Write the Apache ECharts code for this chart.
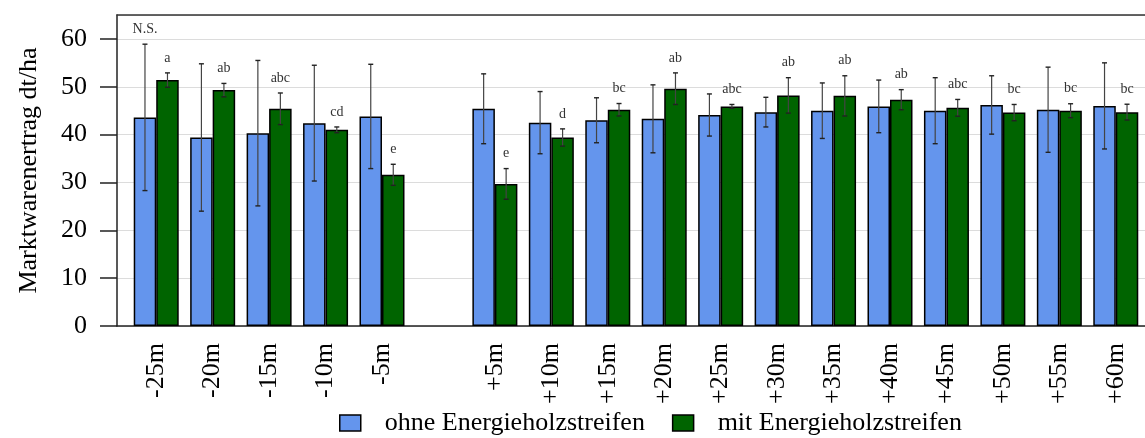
<!DOCTYPE html>
<html>
<head>
<meta charset="utf-8">
<script src="https://cdn.jsdelivr.net/npm/echarts@6/dist/echarts.min.js"></script>
<style>
html,body{margin:0;padding:0;background:#fff;}
#chart{width:1145px;height:438px;}
</style>
</head>
<body>
<div id="chart"></div>
<script>
// ---- data ----
const categories = ['-25m','-20m','-15m','-10m','-5m','','+5m','+10m','+15m','+20m','+25m','+30m','+35m','+40m','+45m','+50m','+55m','+60m'];
const ohneValues = [43.6,39.4,40.3,42.4,43.8,null,45.4,42.5,43.0,43.3,44.1,44.7,45.0,45.9,45.0,46.2,45.2,46.0];
const ohneErr    = [15.3,15.4,15.2,12.1,10.9,null,7.3,6.5,4.7,7.1,4.4,3.1,5.8,5.5,6.9,6.1,8.9,9.0];
const mitValues  = [51.4,49.3,45.4,41.0,31.6,null,29.7,39.4,45.2,49.6,45.9,48.2,48.1,47.3,45.6,44.6,45.0,44.7];
const mitErr     = [1.5,1.4,3.3,0.6,2.2,null,3.2,1.8,1.3,3.3,0.4,3.7,4.2,2.1,1.75,1.7,1.45,1.65];
const ohneLetters = ['N.S.','','','','','','','','','','','','','','','','',''];
const mitLetters  = ['a','ab','abc','cd','e','','e','d','bc','ab','abc','ab','ab','ab','abc','bc','bc','bc'];
const yTicks = [0,10,20,30,40,50,60];
const seriesNames = ['ohne Energieholzstreifen','mit Energieholzstreifen'];

const FONT = 'Liberation Serif';
const BAR_W = 22.5;

function errData(vals, errs, letters){
  const out = [];
  vals.forEach((v,i)=>{ if(v!=null) out.push([i, v, errs[i], letters[i]]); });
  return out;
}

function makeErrRender(offset){
  return function(params, api){
    const i = api.value(0), m = api.value(1), e = api.value(2);
    const top = api.coord([i, m + e]);
    const bot = api.coord([i, m - e]);
    const x = top[0] + offset;
    const cap = 2.5;
    const style = {stroke:'#444', lineWidth:1.2};
    const capStyle = {stroke:'#222', lineWidth:1.4};
    return {type:'group', children:[
      {type:'line', shape:{x1:x,y1:top[1],x2:x,y2:bot[1]}, style},
      {type:'line', shape:{x1:x-cap,y1:top[1],x2:x+cap,y2:top[1]}, style:capStyle},
      {type:'line', shape:{x1:x-cap,y1:bot[1],x2:x+cap,y2:bot[1]}, style:capStyle}
    ]};
  };
}

function makeLabelRender(offset, dataArr){
  return function(params, api){
    const i = api.value(0), m = api.value(1), e = api.value(2);
    const txt = dataArr[params.dataIndex][3];
    const top = api.coord([i, m + e]);
    return {type:'text', style:{text:txt, x: top[0]+offset, y: top[1]-15, align:'center', verticalAlign:'middle',
      font:'14px "Liberation Serif"', fill:'#333'}};
  };
}

const ohneErrData = errData(ohneValues, ohneErr, ohneLetters);
const mitErrData = errData(mitValues, mitErr, mitLetters);

const chart = echarts.init(document.getElementById('chart'), null, {renderer:'canvas'});
chart.setOption({
  animation:false,
  backgroundColor:'#fff',
  textStyle:{fontFamily:FONT},
  grid:[
    {left:128, right:1, top:15, bottom:112},
    {left:117, right:0, top:15, bottom:112}
  ],
  legend:{
    data:seriesNames,
    left:339, top:410, padding:0,
    icon:'rect', itemWidth:21, itemHeight:16, itemGap:27,
    itemStyle:{borderColor:'#000', borderWidth:1.5},
    textStyle:{fontFamily:FONT, fontSize:26, color:'#000', padding:[0,0,0,19]}
  },
  xAxis:[
    {type:'category', gridIndex:0, data:categories,
     axisLine:{show:false}, axisTick:{show:false}, splitLine:{show:false},
     axisLabel:{rotate:90, fontFamily:FONT, fontSize:26, color:'#000', margin:17, interval:0}},
    {type:'value', gridIndex:1, min:0, max:1, position:'bottom',
     axisLine:{show:true, onZero:false, lineStyle:{color:'#222', width:1.5}},
     axisTick:{show:false}, axisLabel:{show:false}, splitLine:{show:false}},
    {type:'value', gridIndex:1, min:0, max:1, position:'top',
     axisLine:{show:true, onZero:false, lineStyle:{color:'#333', width:1.5}},
     axisTick:{show:false}, axisLabel:{show:false}, splitLine:{show:false}}
  ],
  yAxis:[
    {type:'value', gridIndex:0, min:0, max:65, show:false, splitLine:{show:false}},
    {type:'value', gridIndex:1, min:0, max:65, interval:10,
     name:'Marktwarenertrag dt/ha', nameLocation:'middle', nameGap:75,
     nameTextStyle:{fontFamily:FONT, fontSize:26, color:'#000'},
     axisLine:{show:true, lineStyle:{color:'#222', width:1.5}},
     axisTick:{show:true, length:17, lineStyle:{color:'#222', width:1.5}},
     axisLabel:{fontFamily:FONT, fontSize:26, color:'#000', margin:30, showMaxLabel:false,
       formatter:function(v){ return yTicks.indexOf(v)>=0 ? String(v) : ''; }},
     splitLine:{show:true, lineStyle:{color:'#dcdcdc', width:1}}}
  ],
  series:[
    {name:seriesNames[0], type:'bar', xAxisIndex:0, yAxisIndex:0, data:ohneValues,
     barWidth:BAR_W, barGap:'0%',
     itemStyle:{color:'#6495ED', borderColor:'#000', borderWidth:1.5}},
    {name:seriesNames[1], type:'bar', xAxisIndex:0, yAxisIndex:0, data:mitValues,
     barWidth:BAR_W, barGap:'0%',
     itemStyle:{color:'#006400', borderColor:'#000', borderWidth:1.5}},
    {name:'errOhne', type:'custom', xAxisIndex:0, yAxisIndex:0, data:ohneErrData,
     renderItem:makeErrRender(-BAR_W/2), z:5, encode:{x:0,y:1}},
    {name:'errMit', type:'custom', xAxisIndex:0, yAxisIndex:0, data:mitErrData,
     renderItem:makeErrRender(BAR_W/2), z:5, encode:{x:0,y:1}},
    {name:'lblOhne', type:'custom', xAxisIndex:0, yAxisIndex:0, data:ohneErrData,
     renderItem:makeLabelRender(-BAR_W/2, ohneErrData), z:6, encode:{x:0,y:1}},
    {name:'lblMit', type:'custom', xAxisIndex:0, yAxisIndex:0, data:mitErrData,
     renderItem:makeLabelRender(BAR_W/2, mitErrData), z:6, encode:{x:0,y:1}}
  ]
});
</script>
</body>
</html>
